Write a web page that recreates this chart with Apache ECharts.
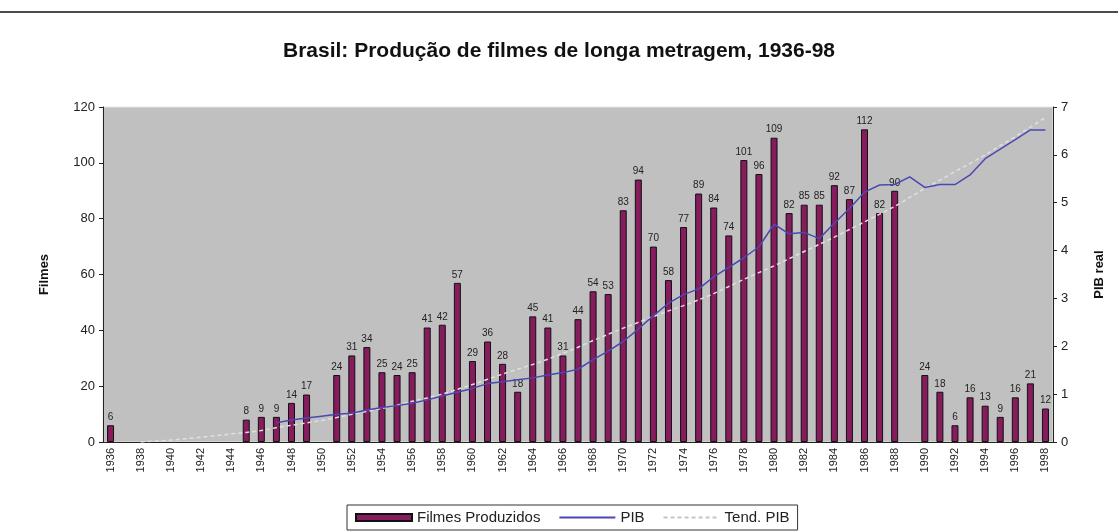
<!DOCTYPE html>
<html>
<head>
<meta charset="utf-8">
<script src="https://cdn.jsdelivr.net/npm/echarts@6/dist/echarts.min.js"></script>
<style>
  html, body { margin: 0; padding: 0; background: #fff; }
  #chart { width: 1118px; height: 532px; }
</style>
</head>
<body>
<div id="chart"></div>
<script>
// anos 1936-1998
const years = [
  "1936", "1937", "1938", "1939", "1940", "1941", "1942", "1943", "1944", "1945",
  "1946", "1947", "1948", "1949", "1950", "1951", "1952", "1953", "1954", "1955",
  "1956", "1957", "1958", "1959", "1960", "1961", "1962", "1963", "1964", "1965",
  "1966", "1967", "1968", "1969", "1970", "1971", "1972", "1973", "1974", "1975",
  "1976", "1977", "1978", "1979", "1980", "1981", "1982", "1983", "1984", "1985",
  "1986", "1987", "1988", "1989", "1990", "1991", "1992", "1993", "1994", "1995",
  "1996", "1997", "1998",
];

// filmes produzidos (null = sem barra)
const filmes = [
  6, null, null, null, null, null, null, null, null, 8,
  9, 9, 14, 17, null, 24, 31, 34, 25, 24,
  25, 41, 42, 57, 29, 36, 28, 18, 45, 41,
  31, 44, 54, 53, 83, 94, 70, 58, 77, 89,
  84, 74, 101, 96, 109, 82, 85, 85, 92, 87,
  112, 82, 90, null, 24, 18, 6, 16, 13, 9,
  16, 21, 12,
];

// PIB real (eixo direito)
const pib = [
  null, null, null, null, null, null, null, null, null, null,
  null, 0.40, 0.46, 0.50, 0.54, 0.58, 0.60, 0.67, 0.72, 0.76,
  0.81, 0.88, 0.96, 1.04, 1.12, 1.22, 1.26, 1.30, 1.34, 1.40,
  1.45, 1.52, 1.72, 1.90, 2.10, 2.36, 2.64, 2.90, 3.08, 3.20,
  3.45, 3.65, 3.85, 4.08, 4.55, 4.35, 4.38, 4.25, 4.57, 4.88,
  5.22, 5.37, 5.38, 5.54, 5.32, 5.38, 5.38, 5.58, 5.92, 6.12,
  6.32, 6.52, 6.52,
];

// tendência do PIB
const tendPib = [
  null, null, 0.00, 0.02, 0.04, 0.07, 0.10, 0.13, 0.17, 0.20,
  0.24, 0.30, 0.35, 0.40, 0.45, 0.51, 0.58, 0.64, 0.70, 0.77,
  0.85, 0.92, 1.00, 1.10, 1.20, 1.31, 1.42, 1.52, 1.62, 1.73,
  1.85, 1.98, 2.12, 2.25, 2.38, 2.50, 2.62, 2.74, 2.85, 2.97,
  3.10, 3.25, 3.40, 3.54, 3.68, 3.83, 3.98, 4.13, 4.28, 4.44,
  4.60, 4.76, 4.92, 5.11, 5.30, 5.47, 5.65, 5.82, 6.00, 6.19,
  6.38, 6.58, 6.78,
];

const font = "Liberation Sans, Arial, sans-serif";
const myChart = echarts.init(document.getElementById("chart"));

const option = {
  animation: false,
  textStyle: { fontFamily: font },
  title: {
    text: "Brasil: Produção de filmes de longa metragem, 1936-98",
    left: "center",
    top: 36,
    textStyle: { fontFamily: font, fontSize: 21, fontWeight: "bold", color: "#111" },
  },
  graphic: [
    {
      type: "line",
      shape: { x1: 0, y1: 12, x2: 1118, y2: 12 },
      style: { stroke: "#111", lineWidth: 1.5 },
    },
  ],
  legend: {
    left: 347,
    bottom: 2,
    itemWidth: 56,
    itemHeight: 7,
    itemGap: 18,
    padding: [5, 8],
    borderColor: "#333",
    borderWidth: 1,
    textStyle: { fontFamily: font, fontSize: 15, color: "#222" },
    data: [
      { name: "Filmes Produzidos", icon: "rect" },
      { name: "PIB", itemStyle: { opacity: 0 } },
      { name: "Tend. PIB", itemStyle: { opacity: 0 }, lineStyle: { color: "#c4c4c4" } },
    ],
  },
  grid: {
    left: 103,
    right: 65,
    top: 107,
    bottom: 90,
    show: true,
    backgroundColor: "#c0c0c0",
    borderColor: "#e6e6e6",
    borderWidth: 1,
  },
  xAxis: {
    type: "category",
    data: years,
    axisLine: { lineStyle: { color: "#222", width: 1 } },
    axisTick: { interval: 0, length: 4, lineStyle: { color: "#222" } },
    axisLabel: {
      interval: 1,
      rotate: 90,
      fontSize: 11,
      color: "#222",
      margin: 6,
    },
  },
  yAxis: [
    {
      type: "value",
      min: 0,
      max: 120,
      interval: 20,
      name: "Filmes",
      nameLocation: "middle",
      nameRotate: 90,
      nameGap: 52,
      nameTextStyle: { fontFamily: font, fontSize: 13, fontWeight: "bold", color: "#111" },
      axisLine: { show: true, lineStyle: { color: "#222" } },
      axisTick: { show: true, length: 4, lineStyle: { color: "#222" } },
      axisLabel: { fontSize: 13, color: "#222", margin: 8 },
      splitLine: { show: false },
    },
    {
      type: "value",
      min: 0,
      max: 7,
      interval: 1,
      name: "PIB real",
      nameLocation: "middle",
      nameRotate: 90,
      nameGap: 40,
      nameTextStyle: { fontFamily: font, fontSize: 13, fontWeight: "bold", color: "#111" },
      axisLine: { show: true, lineStyle: { color: "#222" } },
      axisTick: { show: true, length: 4, lineStyle: { color: "#222" } },
      axisLabel: { fontSize: 13, color: "#222", margin: 8 },
      splitLine: { show: false },
    },
  ],
  series: [
    {
      name: "Filmes Produzidos",
      type: "bar",
      data: filmes,
      barWidth: 7,
      itemStyle: { color: "#861b5e", borderColor: "#111", borderWidth: 1 },
      label: {
        show: true,
        position: "top",
        distance: 3,
        fontSize: 10,
        color: "#222",
        fontFamily: font,
      },
    },
    {
      name: "PIB",
      type: "line",
      yAxisIndex: 1,
      data: pib,
      symbol: "none",
      lineStyle: { color: "#4a48b4", width: 1.5 },
      itemStyle: { color: "#4a48b4" },
      z: 3,
    },
    {
      name: "Tend. PIB",
      type: "line",
      yAxisIndex: 1,
      data: tendPib,
      symbol: "none",
      lineStyle: { color: "#e0e0e0", width: 1.5, type: [4, 3] },
      itemStyle: { color: "#bdbdbd" },
      z: 2,
    },
  ],
};

myChart.setOption(option);
</script>
</body>
</html>
